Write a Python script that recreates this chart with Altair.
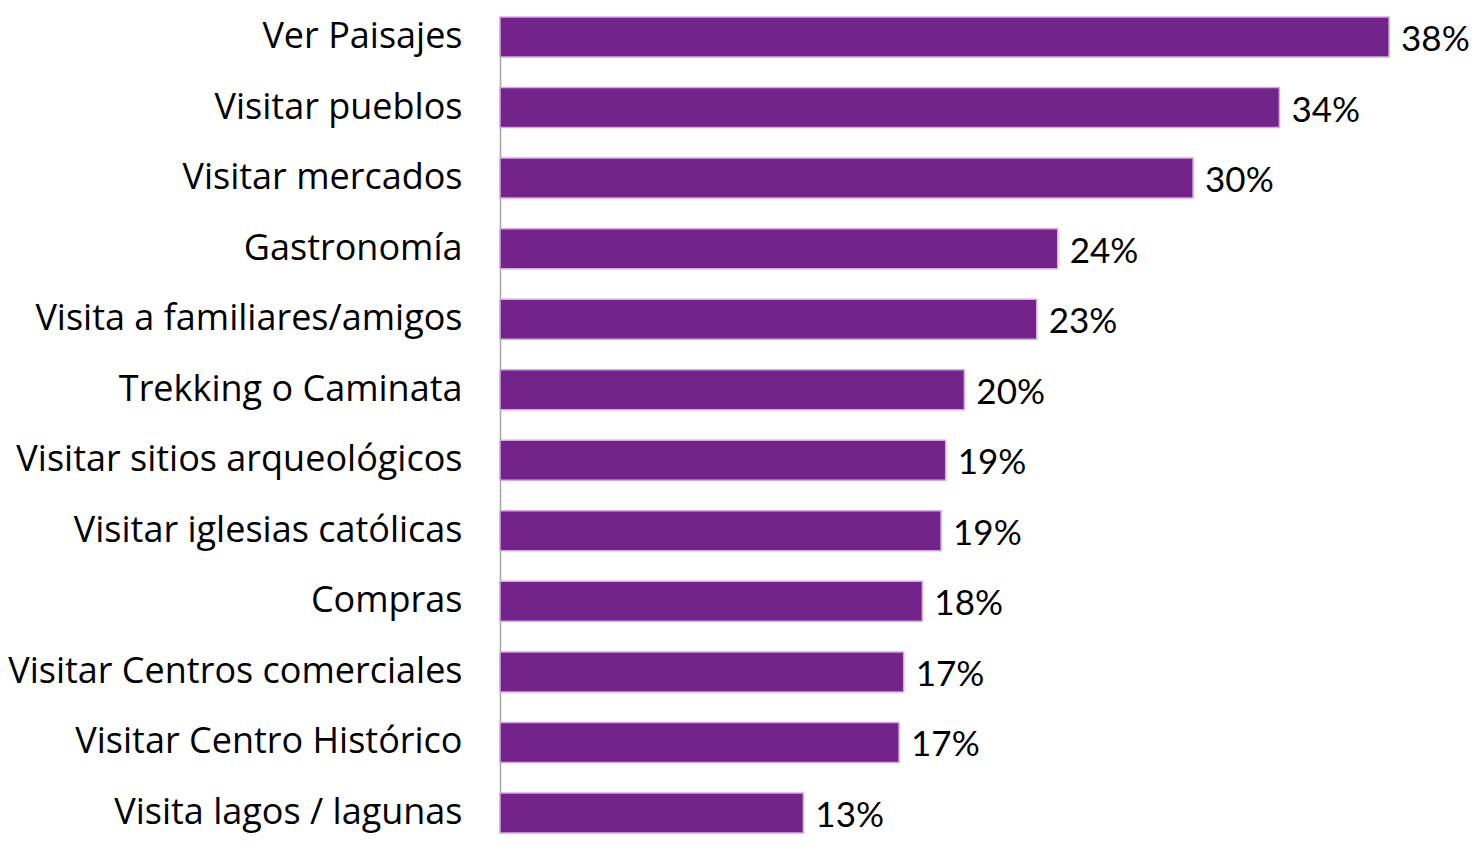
import altair as alt
import pandas as pd

categories = [
    "Ver Paisajes", "Visitar pueblos", "Visitar mercados", "Gastronomía",
    "Visita a familiares/amigos", "Trekking o Caminata",
    "Visitar sitios arqueológicos", "Visitar iglesias católicas", "Compras",
    "Visitar Centros comerciales", "Visitar Centro Histórico", "Visita lagos / lagunas",
]
values = [38.1, 33.4, 29.7, 23.9, 23.0, 19.9, 19.1, 18.9, 18.1, 17.3, 17.1, 13.0]
labels = ["38%", "34%", "30%", "24%", "23%", "20%", "19%", "19%", "18%", "17%", "17%", "13%"]

df = pd.DataFrame({"cat": categories, "val": values, "lab": labels})

W = 960
H = 816

y = alt.Y("cat:N", sort=categories, title=None,
          scale=alt.Scale(paddingInner=0.433, paddingOuter=0.0),
          axis=alt.Axis(ticks=False, labelFont="Open Sans", labelFontSize=36, labelColor="#000000",
                        labelPadding=38, domainColor="#a6a6a6", domainWidth=1.5, labelLimit=600))
x = alt.X("val:Q", title=None, scale=alt.Scale(domain=[0, 41.14], nice=False, zero=True), axis=None)

bars = alt.Chart(df).mark_bar(color="#72248a", stroke="#d9a6e6", strokeWidth=1.5).encode(x=x, y=y)
text = alt.Chart(df).mark_text(align="left", baseline="middle", dx=12, dy=3, font="Lato",
                               fontSize=35, color="#000000").encode(x=x, y=y, text="lab:N")

chart = (bars + text).properties(
    width=W, height=H, autosize="none",
    padding={"left": 492, "top": 9, "right": 12, "bottom": 5},
).configure_view(stroke=None)

chart.save("out.html", embed_options={"renderer": "svg", "actions": False})
